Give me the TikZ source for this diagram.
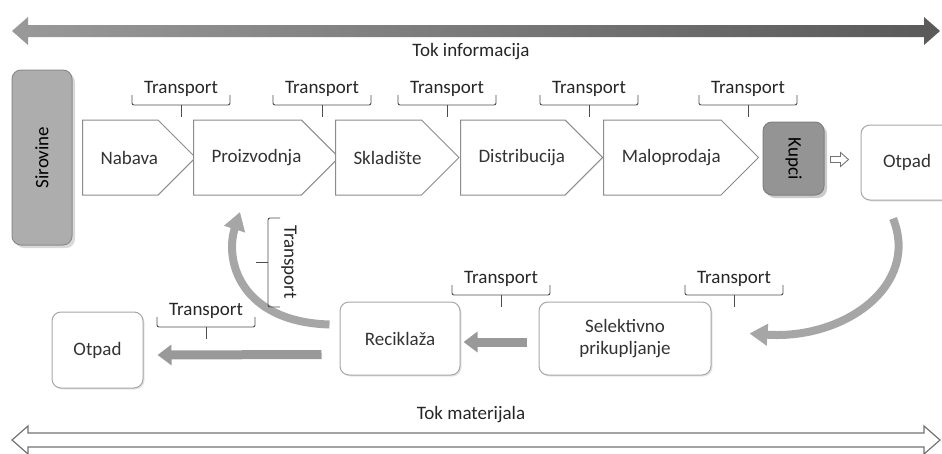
\documentclass[tikz,border=0pt]{standalone}
\usepackage{fontspec}
\setmainfont{Carlito}
\usetikzlibrary{shapes.symbols,arrows.meta,calc,shadows}

\tikzset{
  chev/.style={signal, signal to=east, draw=black!45, line width=1pt, fill=white,
    minimum height=75, inner sep=0pt, anchor=west, text=black!80,
    execute at begin node={\hspace*{18pt}}},
  box/.style={draw=black!35, line width=1pt, rounded corners=9, fill=white, text=black!80,
    drop shadow={opacity=0.2, shadow xshift=1.5pt, shadow yshift=-1.5pt}},
  dark/.style={draw=black!45, line width=1pt, rounded corners=9, text=black},
  flow/.style={line width=9, black!40, -{Triangle[length=14,width=20]}},
  curve/.style={line width=8, black!35, -{Triangle[length=18,width=21]}},
  brace/.style={black!70, line width=0.9pt, rounded corners=2},
  lbl/.style={text=black!85},
}

% Transport bracket: name, centre x, y of the bar
\newcommand\transport[3]{%
  \node[lbl] (#1) at (#2,#3-16) {Transport};
  \draw[brace] (#2-49,#3-10) -- (#2-49,#3) -- (#2+49,#3) -- (#2+49,#3-10);
  \draw[brace] (#2,#3) -- (#2,#3+12);
}

\begin{document}
\begin{tikzpicture}[x=1pt,y=-1pt,font=\fontsize{19}{22}\selectfont]
  \useasboundingbox (0,0) rectangle (942,453);

  % information flow
  \coordinate (infoL) at (12,31);
  \coordinate (infoR) at (940,31);
  \shade[left color=black!40, right color=black!65]
    (infoL) -- ++(16,-14) -- ++(0,8) -- ($(infoR)+(-16,-6)$) -- ++(0,-8) -- (infoR)
    -- ++(-16,14) -- ++(0,-8) -- ($(infoL)+(16,6)$) -- ++(0,8) -- cycle;
  \node[lbl] (tokinf) at (471,52) {Tok informacija};

  % supply chain
  \fill[black!15, rounded corners=9] (15,73) rectangle (75,248);
  \node[dark, fill=black!32, minimum width=60, minimum height=175] (sirovine) at (42,157.5)
    {\rotatebox{90}{Sirovine}};
  \node[chev, minimum width=110] (nabava) at (82,157.5) {Nabava};
  \node[chev, minimum width=140] (proizv) at (193,157.5) {Proizvodnja};
  \node[chev, minimum width=123] (sklad) at (335,157.5) {Skladište};
  \node[chev, minimum width=141] (distr) at (460,157.5) {Distribucija};
  \node[chev, minimum width=155] (malop) at (603,157.5) {Maloprodaja};
  \fill[black!20, rounded corners=9] (766,125) rectangle (827,198);
  \node[dark, draw=black!50, fill=black!42, minimum width=61, minimum height=73] (kupci)
    at (793.5,158.5) {\rotatebox{-90}{Kupci}};
  \node[box, minimum width=92, minimum height=75] (otpadR) at (907,162.5) {Otpad};

  \coordinate (ka) at ($(kupci.east)+(6,1)$);
  \draw[black!55, fill=white, line width=0.9pt]
    (ka) ++(0,-3) -- ++(10,0) -- ++(0,-4) -- ++(8,7) -- ++(-8,7) -- ++(0,-4) -- ++(-10,0) -- cycle;

  \foreach \x [count=\i] in {181,322,447,589,748} {
    \transport{tr\i}{\x}{105}
  }

  % return flow
  \node[box, minimum width=172, minimum height=73, align=center] (selekt) at (625,338.5)
    {Selektivno\\prikupljanje};
  \node[box, minimum width=120, minimum height=73] (recikl) at (400,338.5) {Reciklaža};
  \node[box, minimum width=91, minimum height=76] (otpadL) at (97.5,350) {Otpad};

  \draw[flow] ($(selekt.west)+(-12,3.5)$) -- ($(recikl.east)+(3,3.5)$);
  \draw[flow] ($(recikl.west)+(-18,16)$) -- ($(otpadL.east)+(14,5)$);
  \draw[curve] ($(recikl.west)+(-10,-14)$) .. controls (242,322) and (224,262) .. (240,212);
  \draw[curve] ($(otpadR.south)+(-14,18)$) .. controls (920,285) and (845,340) .. ($(selekt.east)+(38,-5)$);

  \transport{tr6}{501}{295}
  \transport{tr7}{734}{295}
  \transport{tr8}{206}{327}

  \node[lbl] (trV) at (289,262) {\rotatebox{-90}{Transport}};
  \draw[brace] (280,218) -- (268,218) -- (268,307) -- (280,307);
  \draw[brace] (268,262) -- (256,262);

  % material flow
  \node[lbl] (tokmat) at (471,415) {Tok materijala};
  \coordinate (matL) at (12,440);
  \coordinate (matR) at (940,440);
  \draw[black!55, fill=white, line width=1.2pt]
    (matL) -- ++(16,-14) -- ++(0,7) -- ($(matR)+(-16,-7)$) -- ++(0,-7) -- (matR)
    -- ++(-16,14) -- ++(0,-7) -- ($(matL)+(16,7)$) -- ++(0,7) -- cycle;
\end{tikzpicture}
\end{document}
